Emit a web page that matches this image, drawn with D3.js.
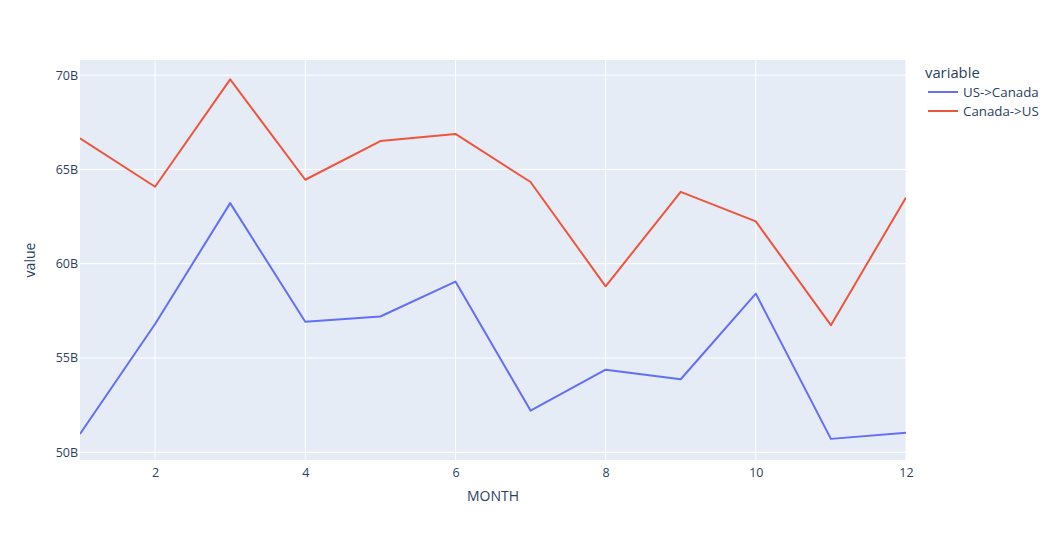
<!DOCTYPE html>
<html>
<head>
<meta charset="utf-8">
<script src="https://cdn.jsdelivr.net/npm/d3@7"></script>
<style>
  body { margin: 0; background: #fff; }
  text { font-family: "Open Sans", "Noto Sans", sans-serif; fill: #2a3f5f; }
</style>
</head>
<body>
<div id="chart"></div>
<script>
// data, values in billions
var months = [1, 2, 3, 4, 5, 6, 7, 8, 9, 10, 11, 12];
var usToCanada = [50.97, 56.8, 63.21, 56.92, 57.2, 59.05, 52.21, 54.38, 53.87, 58.41, 50.71, 51.03];
var canadaToUs = [66.65, 64.08, 69.77, 64.45, 66.5, 66.88, 64.33, 58.8, 63.81, 62.24, 56.74, 63.51];
var seriesNames = ["US->Canada", "Canada->US"];
var xTicks = [2, 4, 6, 8, 10, 12];
var yTicks = [50, 55, 60, 65, 70];

var colors = ["#636efa", "#EF553B"];
var margin = {top: 60, right: 154, bottom: 80, left: 80};
var width = 1060 - margin.left - margin.right;
var height = 540 - margin.top - margin.bottom;

var svg = d3.select("#chart").append("svg")
    .attr("width", 1060)
    .attr("height", 540);

var g = svg.append("g")
    .attr("transform", "translate(" + margin.left + "," + margin.top + ")");

var xScale = d3.scaleLinear().domain([1, 12]).range([0, width]);
var yScale = d3.scaleLinear().domain([49.59, 70.8]).range([height, 0]);

g.append("rect")
    .attr("width", width)
    .attr("height", height)
    .attr("fill", "#E5ECF6");

// gridlines
g.selectAll(".xgrid").data(xTicks).enter().append("line")
    .attr("x1", function(d) { return xScale(d); })
    .attr("x2", function(d) { return xScale(d); })
    .attr("y1", 0).attr("y2", height)
    .attr("stroke", "#fff").attr("stroke-width", 1);

g.selectAll(".ygrid").data(yTicks).enter().append("line")
    .attr("x1", 0).attr("x2", width)
    .attr("y1", function(d) { return yScale(d); })
    .attr("y2", function(d) { return yScale(d); })
    .attr("stroke", "#fff").attr("stroke-width", 1);

// axes
var xAxis = d3.axisBottom(xScale).tickValues(xTicks).tickSize(0).tickPadding(8);
var yAxis = d3.axisLeft(yScale).tickValues(yTicks).tickSize(0).tickPadding(2)
    .tickFormat(function(d) { return d + "B"; });

var xg = g.append("g").attr("transform", "translate(0," + height + ")").call(xAxis);
var yg = g.append("g").call(yAxis);
[xg, yg].forEach(function(a) {
  a.select(".domain").remove();
  a.selectAll("text").style("font-size", "12.5px").attr("fill", "#2a3f5f");
});

g.append("text")
    .attr("x", width / 2).attr("y", height + 41)
    .attr("text-anchor", "middle")
    .style("font-size", "14px")
    .text("MONTH");

g.append("text")
    .attr("transform", "rotate(-90)")
    .attr("x", -height / 2).attr("y", -45)
    .attr("text-anchor", "middle")
    .style("font-size", "14px")
    .text("value");

// lines
var line = d3.line()
    .x(function(d, i) { return xScale(months[i]); })
    .y(function(d) { return yScale(d); });

g.append("clipPath").attr("id", "clip")
    .append("rect").attr("width", width).attr("height", height);

[usToCanada, canadaToUs].forEach(function(s, i) {
  g.append("path")
      .attr("d", line(s))
      .attr("fill", "none")
      .attr("stroke", colors[i])
      .attr("stroke-width", 2)
      .attr("stroke-linejoin", "round")
      .attr("clip-path", "url(#clip)");
});

// legend
var legend = svg.append("g").attr("transform", "translate(925,0)");
legend.append("text")
    .attr("x", 0).attr("y", 78)
    .style("font-size", "14.8px")
    .text("variable");

seriesNames.forEach(function(name, i) {
  var y = 92 + i * 19;
  legend.append("line")
      .attr("x1", 3).attr("x2", 33)
      .attr("y1", y).attr("y2", y)
      .attr("stroke", colors[i]).attr("stroke-width", 2);
  legend.append("text")
      .attr("x", 38).attr("y", y + 4.5)
      .style("font-size", "13.3px")
      .text(name);
});
</script>
</body>
</html>
